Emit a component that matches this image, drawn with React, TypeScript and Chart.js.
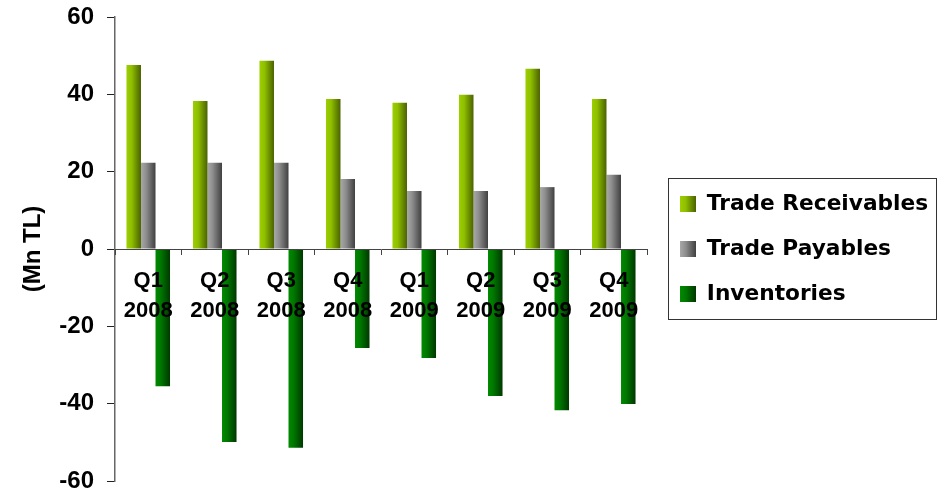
import React, { useEffect, useRef } from 'react';
import { Chart, registerables } from 'chart.js';

Chart.register(...registerables);

// ---- data ----
const quarters = ['Q1', 'Q2', 'Q3', 'Q4', 'Q1', 'Q2', 'Q3', 'Q4'];
const years = ['2008', '2008', '2008', '2008', '2009', '2009', '2009', '2009'];
const tradeReceivables = [47.6, 38.3, 48.7, 38.8, 37.8, 39.9, 46.6, 38.8];
const tradePayables = [22.3, 22.3, 22.3, 18.1, 15.0, 15.0, 16.0, 19.2];
const inventories = [-35.5, -49.9, -51.4, -25.6, -28.2, -38.0, -41.7, -40.1];
const yTickValues = [-60, -40, -20, 0, 20, 40, 60];
const seriesLabels = ['Trade Receivables', 'Trade Payables', 'Inventories'];
const yAxisTitle = '(Mn TL)';

// ---- styles ----
const baseColors = ['#8cbd00', '#7a7a7a', '#006a00'];
const gradientStops: [number, string][][] = [
  [[0, '#9ccf00'], [0.35, '#8fbf00'], [1, '#4a6200']],
  [[0, '#a8a8a8'], [0.35, '#8e8e8e'], [1, '#404040']],
  [[0, '#008a00'], [0.35, '#007800'], [1, '#003800']],
];
const AXIS_FONT = "'Liberation Sans', Arial, sans-serif";
const LEGEND_FONT = "'DejaVu Sans', Verdana, sans-serif";
const LEGEND_FONT_SIZE = 21.7;
const LEGEND_BOX = 16;
const CHART_RIGHT = 647;
const LEGEND_SHIFT = 9.7;

function makeGradient(ctx: CanvasRenderingContext2D, x0: number, x1: number, di: number) {
  const g = ctx.createLinearGradient(x0, 0, x1, 0);
  gradientStops[di].forEach(([o, c]) => g.addColorStop(o, c));
  return g;
}

const customPlugin = {
  id: 'customLook',
  beforeLayout(chart: any) {
    const lg = chart.legend;
    if (lg && !lg.__fixedFit) {
      const orig = lg.fit.bind(lg);
      lg.fit = function () {
        orig();
        if (this.options.display) this.width = chart.width - CHART_RIGHT;
      };
      lg.__fixedFit = true;
    }
  },
  afterLayout(chart: any) {
    const lg = chart.legend;
    if (lg) {
      lg.left += LEGEND_SHIFT;
      lg.right += LEGEND_SHIFT;
    }
  },
  beforeDatasetsDraw(chart: any) {
    const ctx = chart.ctx;
    chart.data.datasets.forEach((_ds: any, di: number) => {
      const meta = chart.getDatasetMeta(di);
      meta.data.forEach((el: any) => {
        const { x, width } = el.getProps(['x', 'width'], true);
        el.options.backgroundColor = makeGradient(ctx, x - width / 2, x + width / 2, di);
      });
    });
  },
  afterDraw(chart: any) {
    const lg = chart.legend;
    if (!lg || !lg.legendHitBoxes || !lg.legendHitBoxes.length) return;
    const ctx: CanvasRenderingContext2D = chart.ctx;
    const hb = lg.legendHitBoxes;
    ctx.save();
    hb.forEach((h: any, i: number) => {
      const by = h.top + Math.max((LEGEND_FONT_SIZE - LEGEND_BOX) / 2, 0);
      ctx.fillStyle = makeGradient(ctx, h.left, h.left + LEGEND_BOX, i);
      ctx.fillRect(h.left, by, LEGEND_BOX, LEGEND_BOX);
    });
    const left = hb[0].left - 12;
    const top = hb[0].top - 15;
    const last = hb[hb.length - 1];
    const bottom = last.top + last.height + 14;
    const maxRight = Math.max(...hb.map((h: any) => h.left + h.width));
    const right = Math.max(left + 268, maxRight + 6);
    ctx.strokeStyle = '#333';
    ctx.lineWidth = 1;
    ctx.strokeRect(Math.round(left) + 0.5, Math.round(top) + 0.5, Math.round(right - left), Math.round(bottom - top));
    ctx.restore();
  },
};

export default function App() {
  const canvasRef = useRef<HTMLCanvasElement | null>(null);

  useEffect(() => {
    if (!canvasRef.current) return;
    const datasetValues = [tradeReceivables, tradePayables, inventories];
    const chart = new Chart(canvasRef.current, {
      type: 'bar',
      data: {
        labels: quarters.map((q, i) => [q, years[i]]),
        datasets: datasetValues.map((vals, di) => ({
          label: seriesLabels[di],
          data: vals,
          backgroundColor: () => baseColors[di],
          borderWidth: 0,
        })),
      },
      options: {
        responsive: true,
        maintainAspectRatio: false,
        animation: false,
        layout: { padding: { top: 17, bottom: 11, left: 0, right: 0 } },
        datasets: { bar: { categoryPercentage: 0.655, barPercentage: 1 } },
        scales: {
          x: {
            position: { y: 0 },
            grid: {
              display: true,
              drawOnChartArea: false,
              drawTicks: true,
              tickLength: 5,
              color: '#444',
              offset: true,
              z: 1,
            },
            border: { display: true, color: '#444', width: 1, z: 1 },
            ticks: {
              z: 2,
              color: '#000',
              font: { family: AXIS_FONT, size: 22, weight: 'bold', lineHeight: 30 / 22 },
              padding: 12,
              maxRotation: 0,
              autoSkip: false,
            },
            afterFit: (s: any) => {
              s.paddingLeft = 0;
              s.paddingRight = 0;
            },
          },
          y: {
            min: -60,
            max: 60,
            afterBuildTicks: (s: any) => {
              s.ticks = yTickValues.map((v) => ({ value: v }));
            },
            grid: { display: true, drawOnChartArea: false, drawTicks: true, tickLength: 8, color: '#222' },
            border: { display: true, color: '#666', width: 1.5 },
            ticks: {
              color: '#000',
              font: { family: AXIS_FONT, size: 24, weight: 'bold' },
              padding: 13,
            },
            title: {
              display: true,
              text: yAxisTitle,
              color: '#000',
              font: { family: AXIS_FONT, size: 24, weight: 'bold' },
              padding: { top: 19, bottom: 0 },
            },
            afterFit: (s: any) => {
              s.width = 115;
              s.paddingTop = 0;
              s.paddingBottom = 0;
            },
          },
        },
        plugins: {
          legend: {
            display: true,
            position: 'right',
            align: 'center',
            labels: {
              boxWidth: LEGEND_BOX,
              boxHeight: LEGEND_BOX,
              padding: 23.3,
              color: '#000',
              font: { family: LEGEND_FONT, size: LEGEND_FONT_SIZE, weight: 'bold' },
            },
          },
          tooltip: { enabled: false },
        },
      } as any,
      plugins: [customPlugin as any],
    });
    return () => chart.destroy();
  }, []);

  return (
    <div style={{ position: 'fixed', left: 0, top: 0, width: 941, height: 492, background: '#fff' }}>
      <canvas ref={canvasRef} />
    </div>
  );
}
